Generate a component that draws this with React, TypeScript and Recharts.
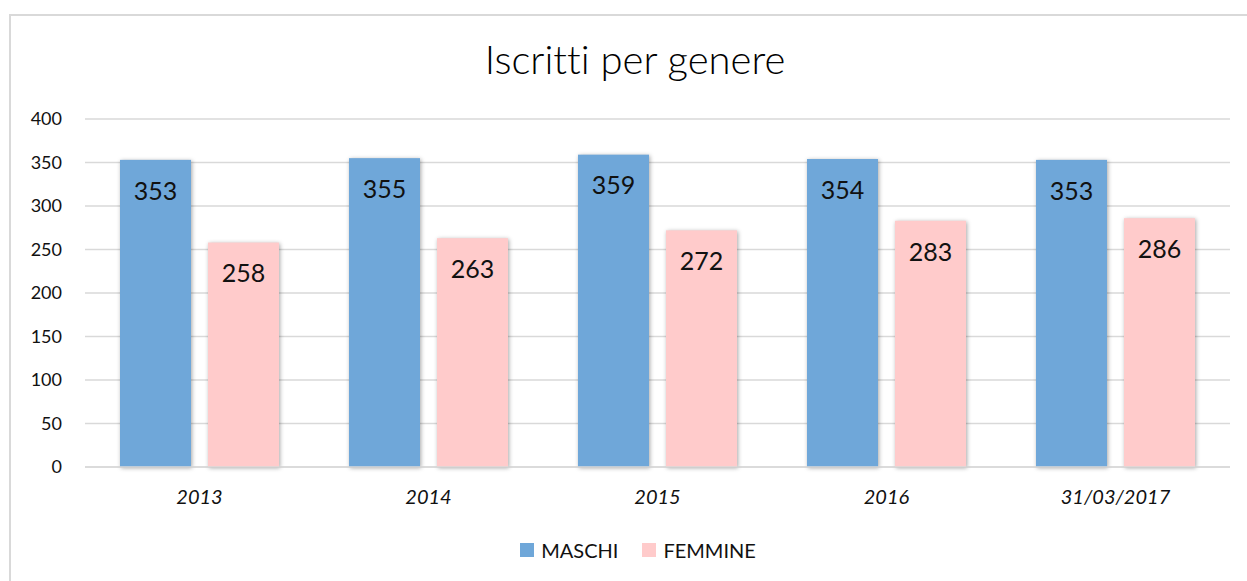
import React from 'react';
import { BarChart, Bar, XAxis, YAxis, CartesianGrid, Legend, LabelList } from 'recharts';

const categories = ['2013', '2014', '2015', '2016', '31/03/2017'];
const maschi = [353, 355, 359, 354, 353];
const femmine = [258, 263, 272, 283, 286];
const yTicks = [0, 50, 100, 150, 200, 250, 300, 350, 400];
const seriesNames = ['MASCHI', 'FEMMINE'];
const seriesColors = ['#6fa7d9', '#ffcbcb'];

const data = categories.map((name, i) => ({ name, MASCHI: maschi[i], FEMMINE: femmine[i] }));

const FONT = 'Lato, "Open Sans", sans-serif';

// bar with a soft drop shadow, like the office chart
const ShadowBar = (props: any) => {
  const { x, y, width, height, fill } = props;
  if (height <= 0) return null;
  return (
    <rect
      x={x}
      y={y}
      width={width}
      height={height}
      fill={fill}
      style={{ filter: 'drop-shadow(1px 1px 2px rgba(0,0,0,0.35))' }}
    />
  );
};

const LegendContent = () => (
  <div style={{ display: 'flex', justifyContent: 'center', alignItems: 'center', paddingTop: 11, paddingLeft: 46, fontSize: 20, color: '#111', fontFamily: FONT }}>
    {seriesNames.map((n, i) => (
      <div key={n} style={{ display: 'flex', alignItems: 'center', margin: '0 12px' }}>
        <span style={{ display: 'inline-block', width: 14, height: 14, background: seriesColors[i], marginRight: 7 }} />
        <span>{n}</span>
      </div>
    ))}
  </div>
);

export default function App() {
  return (
    <div style={{ position: 'absolute', left: 0, top: 0, width: 1247, height: 581, overflow: 'hidden', background: '#fff', fontFamily: FONT }}>
      <div style={{ position: 'absolute', left: 9, top: 14, width: 1260, height: 600, border: '2px solid #d9d9d9', boxSizing: 'border-box' }} />
      <div style={{ position: 'absolute', left: 0, top: 35, width: 1270, textAlign: 'center', fontSize: 40, fontWeight: 300, color: '#000', fontVariantLigatures: 'none' }}>
        Iscritti per genere
      </div>
      <div style={{ position: 'absolute', left: 0, top: 0 }}>
        <BarChart
          width={1247}
          height={581}
          data={data}
          margin={{ top: 119, right: 17, left: 0, bottom: 14 }}
          barSize={71}
          barGap={17}
        >
          <CartesianGrid vertical={false} stroke="#d9d9d9" strokeWidth={1.5} />
          <XAxis
            dataKey="name"
            height={60}
            axisLine={{ stroke: '#d9d9d9', strokeWidth: 1.5 }}
            tickLine={false}
            tickMargin={17}
            tick={{ fill: '#111', fontSize: 20, fontStyle: 'italic', fontFamily: FONT }}
          />
          <YAxis
            width={85}
            domain={[0, 400]}
            ticks={yTicks}
            axisLine={false}
            tickLine={false}
            tickMargin={17}
            tick={{ fill: '#111', fontSize: 18, fontFamily: FONT }}
          />
          <Legend verticalAlign="bottom" height={40} content={LegendContent} />
          <Bar dataKey="MASCHI" fill={seriesColors[0]} isAnimationActive={false} shape={ShadowBar}>
            <LabelList dataKey="MASCHI" position="insideTop" offset={22} fill="#111" fontSize={25} fontFamily={FONT} />
          </Bar>
          <Bar dataKey="FEMMINE" fill={seriesColors[1]} isAnimationActive={false} shape={ShadowBar}>
            <LabelList dataKey="FEMMINE" position="insideTop" offset={22} fill="#111" fontSize={25} fontFamily={FONT} />
          </Bar>
        </BarChart>
      </div>
    </div>
  );
}
